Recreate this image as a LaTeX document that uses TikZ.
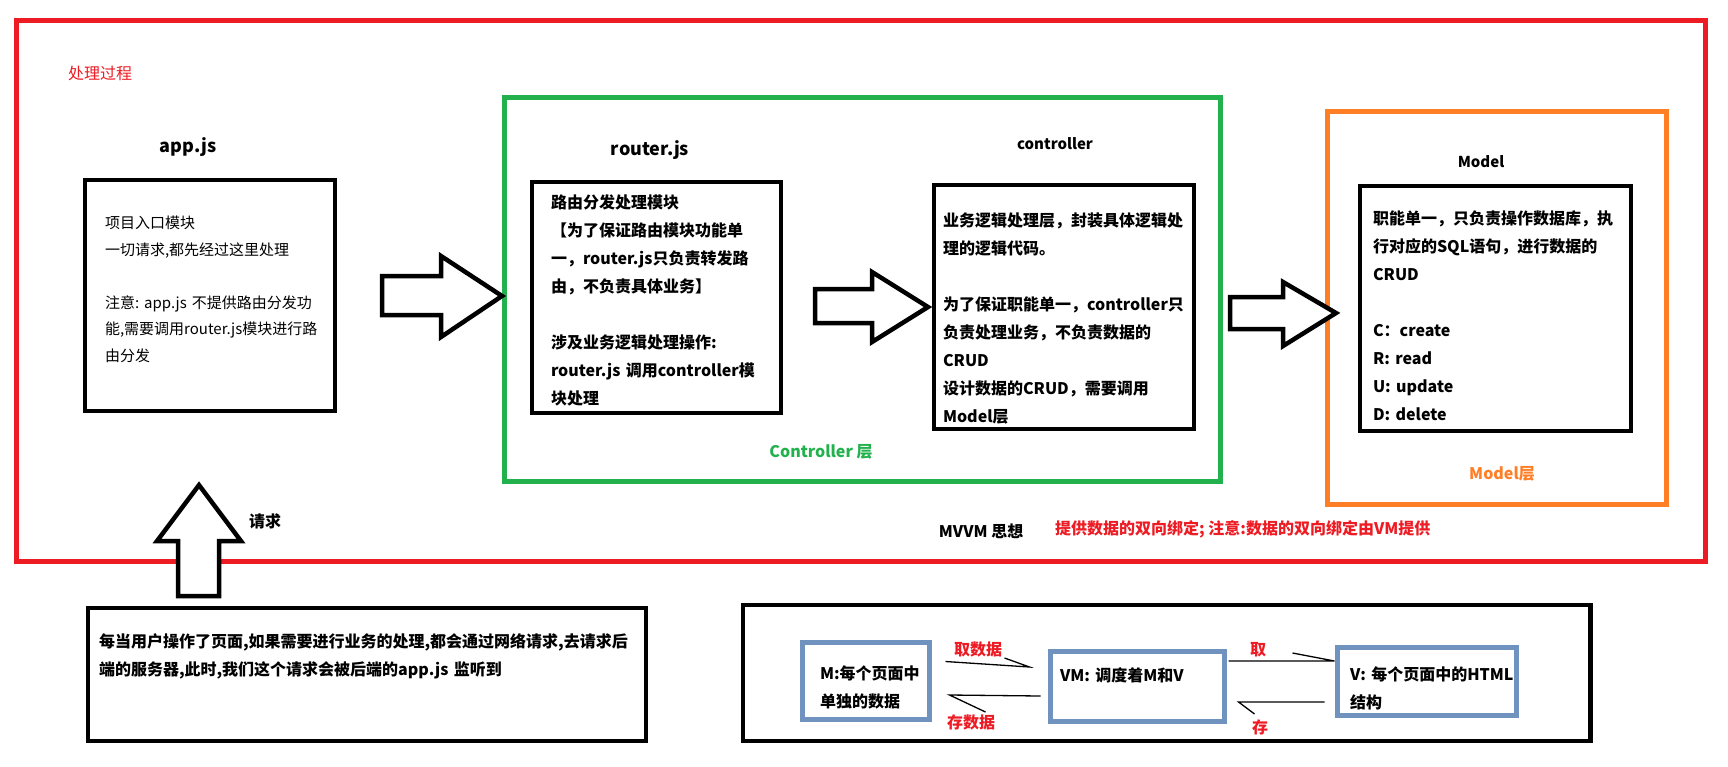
\documentclass[tikz,border=0pt]{standalone}
\usepackage{fontspec}
\setmainfont{Noto Sans CJK SC}
\usepackage{tikz}
\usetikzlibrary{calc}
\definecolor{paintred}{RGB}{237, 28, 36}
\definecolor{paintgreen}{RGB}{34, 177, 76}
\definecolor{paintorange}{RGB}{255, 127, 39}
\definecolor{paintblue}{RGB}{112, 146, 190}

\tikzset{
  box/.style        = {draw = black, line width = 4.5pt, inner ysep = 0pt,
                       align = left, font = \fontsize{16}{28}\selectfont\bfseries},
  mvbox/.style      = {draw = paintblue, line width = 5pt, inner ysep = 0pt,
                       align = left, font = \fontsize{16}{28}\selectfont\bfseries},
  layer/.style      = {draw = #1, line width = 5pt, inner sep = 0pt},
  heading/.style    = {font = \fontsize{18}{20}\selectfont\bfseries},
  subheading/.style = {font = \fontsize{15}{18}\selectfont\bfseries},
  caption/.style    = {font = \fontsize{16}{18}\selectfont\bfseries},
  tag/.style        = {text = paintred, font = \fontsize{16}{18}\selectfont\bfseries},
  blockarrow/.style = {draw = black, line width = 4.5pt, line join = miter, fill = white},
  wire/.style       = {draw = black, line width = 1.3pt},
}

\begin{document}
\begin{tikzpicture}[x=1pt, y=-1pt]
  \useasboundingbox (0,0) rectangle (1728,766);
  \fill[white] (0,0) rectangle (1728,766);

  \node[layer = paintred,    minimum width = 1688.5pt, minimum height = 541.5pt] (process)    at (860.75, 290.75) {};
  \node[layer = paintgreen,  minimum width = 716pt,    minimum height = 384pt]   (ctrllayer)  at (862, 289) {};
  \node[layer = paintorange, minimum width = 339.5pt,  minimum height = 393.5pt] (modellayer) at (1497, 308) {};

  \node[
    text       = paintred,
    font       = \fontsize{16}{18}\selectfont,
    anchor     = west,
    inner sep  = 0pt
  ] (processlabel) at (68, 73) {处理过程};

  \node[heading]    (apptitle)    at (188, 147)  {app.js};
  \node[heading]    (routertitle) at (650, 150)  {router.js};
  \node[subheading] (ctrltitle)   at (1055, 144) {controller};
  \node[subheading] (modeltitle)  at (1481, 162) {Model};

  \node[
    box,
    font           = \fontsize{15}{26.5}\selectfont,
    minimum width  = 250pt,
    minimum height = 231pt,
    inner xsep     = 20pt,
    text width     = 210pt
  ] (appbox) at (210, 295.5) {项目入口模块\\一切请求,都先经过这里处理\\[26.5pt]注意:~app.js~不提供路由分发功\\能,需要调用router.js模块进行路\\由分发\\[-12.5pt]\mbox{}};

  \node[
    box,
    minimum width  = 249pt,
    minimum height = 231pt,
    inner xsep     = 19pt,
    text width     = 211pt
  ] (routerbox) at (656.5, 297.5) {\mbox{}\\[-8pt]路由分发处理模块\\【为了保证路由模块功能单\\一，router.js只负责转发路\\由，不负责具体业务】\\[28pt]涉及业务逻辑处理操作:\\router.js~调用controller模\\块处理};

  \node[
    box,
    minimum width  = 260pt,
    minimum height = 244pt,
    inner xsep     = 9pt,
    text width     = 242pt
  ] (ctrlbox) at (1064, 307) {\mbox{}\\[8pt]业务逻辑处理层，封装具体逻辑处\\理的逻辑代码。\\[28pt]为了保证职能单一，controller只\\负责处理业务，不负责数据的\\CRUD\\设计数据的CRUD，需要调用\\Model层};

  \node[
    box,
    minimum width  = 271pt,
    minimum height = 245pt,
    inner xsep     = 13pt,
    text width     = 245pt
  ] (modelbox) at (1495.5, 308.5) {\mbox{}\\职能单一，只负责操作数据库，执\\行对应的SQL语句，进行数据的\\CRUD\\[28pt]C：create\\R:~read\\U:~update\\D:~delete};

  \node[text = paintgreen,  font = \fontsize{16}{18}\selectfont\bfseries] (ctrllabel)  at (821, 452)  {Controller 层};
  \node[text = paintorange, font = \fontsize{16}{18}\selectfont\bfseries] (modellabel) at (1502, 474) {Model层};

  \node[caption] (mvvmlabel) at (981, 531) {MVVM 思想};
  \node[tag, anchor = west, inner sep = 0pt] (mvvmnote) at (1055, 529) {提供数据的双向绑定; 注意:数据的双向绑定由VM提供};
  \node[caption] (reqlabel) at (265, 521) {请求};

  \node[
    box,
    minimum width  = 558pt,
    minimum height = 133pt,
    inner xsep     = 11pt,
    text width     = 536pt
  ] (reqbox) at (367, 674.5) {每当用户操作了页面,如果需要进行业务的处理,都会通过网络请求,去请求后\\端的服务器,此时,我们这个请求会被后端的app.js~监听到\\[11pt]\mbox{}};

  \node[
    box,
    minimum width  = 847.5pt,
    minimum height = 136pt
  ] (mvvmbox) at (1166.75, 673) {};

  \node[
    mvbox,
    minimum width  = 127pt,
    minimum height = 77pt,
    inner xsep     = 18pt,
    text width     = 91pt
  ] (mbox) at (865.5, 680.5) {\mbox{}\\M:每个页面中\\单独的数据};

  \node[
    mvbox,
    minimum width  = 174pt,
    minimum height = 70pt,
    inner xsep     = 10pt,
    text width     = 154pt
  ] (vmbox) at (1137, 686) {VM:~调度着M和V\\[-6pt]\mbox{}};

  \node[
    mvbox,
    minimum width  = 179pt,
    minimum height = 68pt,
    inner xsep     = 13pt,
    text width     = 153pt
  ] (vbox) at (1426.5, 681) {\mbox{}\\V:~每个页面中的HTML\\结构};

  \draw[blockarrow] (382,276) -- (441,276) -- (441,256) -- (502,296) -- (441,337) -- (441,315) -- (382,315) -- cycle;
  \draw[blockarrow] (815,289) -- (872,289) -- (872,272) -- (928,307) -- (872,342) -- (872,323) -- (815,323) -- cycle;
  \draw[blockarrow] (1230,297) -- (1283,297) -- (1283,282) -- (1336,313) -- (1283,346) -- (1283,329) -- (1230,329) -- cycle;
  \draw[blockarrow] (199,485) -- (241,541) -- (219,541) -- (219,596) -- (178,596) -- (178,541) -- (157,541) -- cycle;

  \draw[wire] ([shift={(14,-19)}]mbox.east) -- ([shift={(-18,-19)}]vmbox.west) -- ++(-25,-9);
  \draw[wire] ([shift={(-7,10)}]vmbox.west) -- ([shift={(18,14.5)}]mbox.east) -- ++(36,17);
  \draw[wire] ([shift={(2,-25)}]vmbox.east) -- ([shift={(0,-20)}]vbox.west) -- ++(-42,-8);
  \draw[wire] ([shift={(-10,21)}]vbox.west) -- ([shift={(12,16)}]vmbox.east) -- ++(16,12);

  \node[tag] (getdata)  at (978, 649)  {取数据};
  \node[tag] (savedata) at (971, 722)  {存数据};
  \node[tag] (getview)  at (1258, 650) {取};
  \node[tag] (saveview) at (1260, 727) {存};
\end{tikzpicture}
\end{document}
